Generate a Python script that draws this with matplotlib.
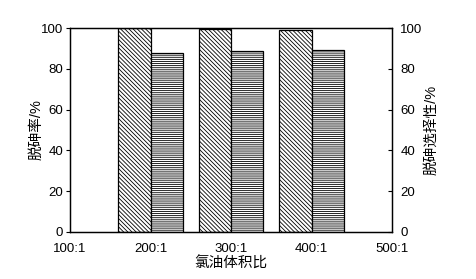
import matplotlib.pyplot as plt

plt.rcParams['font.family'] = ['Liberation Sans', 'Noto Sans CJK SC', 'DejaVu Sans']
plt.rcParams['font.size'] = 9.5
plt.rcParams['hatch.linewidth'] = 0.6

# data
ratios = [200, 300, 400]
tick_pos = [100, 200, 300, 400, 500]
tick_labels = ["100:1", "200:1", "300:1", "400:1", "500:1"]
removal = [100.0, 99.6, 99.0]       # 脱砷率 /%
selectivity = [87.6, 88.6, 89.0]    # 脱砷选择性 /%

bar_w = 40

fig = plt.figure(figsize=(4.77, 2.79), dpi=100)
ax = fig.add_axes([0.1468, 0.1685, 0.675, 0.7311])
ax2 = ax.twinx()

ax.bar([r - bar_w / 2 for r in ratios], removal, width=bar_w,
       color="white", edgecolor="black", lw=0.9, hatch="\\" * 8)
ax2.bar([r + bar_w / 2 for r in ratios], selectivity, width=bar_w,
        color="white", edgecolor="black", lw=0.9, hatch="-" * 8)

for a in (ax, ax2):
    a.set_xlim(100, 500)
    a.set_ylim(0, 100)
    a.set_yticks([0, 20, 40, 60, 80, 100])

ax.set_xticks(tick_pos)
ax.set_xticklabels(tick_labels)
ax.tick_params(axis="x", length=0, pad=8)
ax.tick_params(axis="y", direction="out", length=3, width=0.8, pad=2)
ax2.tick_params(axis="y", direction="in", length=3, width=0.8, pad=6)

ax.set_ylabel("脱砷率/%", fontsize=10.5)
ax2.set_ylabel("脱砷选择性/%", fontsize=10.5)
ax.yaxis.set_label_coords(-0.084, 0.5)
ax2.yaxis.set_label_coords(1.10, 0.5)
ax.set_xlabel("氯油体积比", fontsize=10.5, labelpad=1)

for a in (ax, ax2):
    for s in a.spines.values():
        s.set_linewidth(0.9)

fig.savefig("out.png", dpi=100)
